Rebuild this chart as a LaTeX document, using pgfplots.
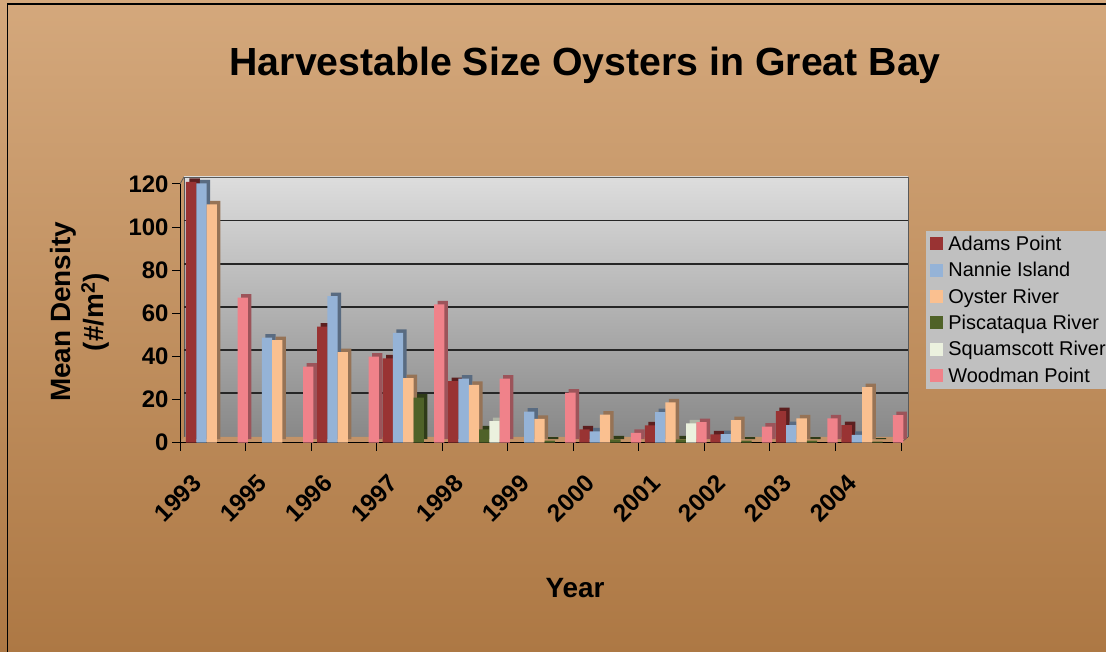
\documentclass[border=0pt]{standalone}
\usepackage{fontspec}
\setmainfont{Liberation Sans}
\usepackage{pgfplots}
\pgfplotsset{compat=1.18}
\usepackage{pgfplotstable}
\definecolor{bgtop}{HTML}{D4A87C}
\definecolor{bgbot}{HTML}{AD7844}
\definecolor{walltop}{HTML}{DDDDDD}
\definecolor{wallbot}{HTML}{888888}
\definecolor{floorc}{HTML}{C39368}
\definecolor{adams}{HTML}{993333}
\definecolor{nannie}{HTML}{95B3D7}
\definecolor{oyster}{HTML}{FAC090}
\definecolor{pisc}{HTML}{4F6228}
\definecolor{squam}{HTML}{EBF1DE}
\definecolor{wood}{HTML}{F0828A}
\definecolor{leggray}{HTML}{C0C0C0}

% i = category index: 0=1993, 1=1995, 2=1996, ..., 10=2004
\pgfplotstableread{
i v
0 121.0
2 53.8
3 39.1
4 28.6
6 6.2
7 8.0
8 3.9
9 14.6
10 8.2
}\adams
\pgfplotstableread{
i v
0 120.3
1 48.7
2 68.0
3 51.0
4 29.7
5 14.4
6 5.3
7 14.2
8 4.0
9 8.2
10 3.6
}\nannie
\pgfplotstableread{
i v
0 110.6
1 47.6
2 42.0
3 29.9
4 26.8
5 11.1
6 13.0
7 18.7
8 10.5
9 11.3
10 25.8
}\oyster
\pgfplotstableread{
i v
3 20.9
4 6.2
5 1.0
6 1.5
7 1.5
8 1.0
9 1.0
10 0.5
}\pisc
\pgfplotstableread{
i v
4 10.0
7 9.0
}\squam
\pgfplotstableread{
i v
0 67.3
1 35.3
2 39.9
3 64.2
4 29.7
5 23.2
6 4.6
7 9.5
8 7.4
9 11.3
10 12.8
}\wood

\begin{document}
\begin{tikzpicture}
\useasboundingbox (0bp,0bp) rectangle (1106bp,652bp);
\begin{scope}[x=1bp,y=1bp]
\shade[top color=bgtop, bottom color=bgbot] (0,0) rectangle (1106,652);
\draw[black, line width=1.5bp] (7.5,0) -- (7.5,648) -- (1106,648);
% back wall and floor
\shade[top color=walltop, bottom color=wallbot] (184,215) rectangle (908,475);
\draw[gray!70!black, line width=0.8bp] (184,215) -- (184,475) -- (908,475) -- (908,215);
\draw[gray!70!black, line width=0.8bp] (180,468) -- (184,475);
\fill[floorc] (180,209.3) -- (901,209.3) -- (908,215) -- (184,215) -- cycle;
\draw[gray!60!black, line width=0.6bp] (901,209.3) -- (908,215);
\foreach \v in {20,40,60,80,100}
  \draw[black!85, line width=1.4bp] (184,{215.7+\v*2.1558}) -- (908,{215.7+\v*2.1558});
\end{scope}
\begin{axis}[
  at={(180bp,209.3bp)}, anchor=south west, scale only axis,
  width=721bp, height=258.7bp,
  xmin=0, xmax=11, ymin=0, ymax=120, clip=false,
  axis x line*=bottom, axis y line*=left,
  axis line style={black, line width=1bp, -},
  xtick={0,...,11},
  xticklabels={1993,1995,1996,1997,1998,1999,2000,2001,2002,2003,2004,{}},
  ytick={0,20,...,120},
  tick style={black, line width=1bp},
  major tick length=8bp, tick align=outside,
  /pgf/number format/assume math mode=true,
  yticklabel style={font=\bfseries\fontsize{24}{24}\selectfont},
  xticklabel style={font=\bfseries\fontsize{24.5}{24.5}\selectfont, xshift=19.5bp, yshift=-26bp, rotate=45, anchor=east},
  title={Harvestable Size Oysters in Great Bay},
  title style={font=\bfseries\fontsize{39.4}{41}\selectfont, at={(axis description cs:0.562,1.437)}, anchor=center},
  xlabel={Year},
  xlabel style={font=\bfseries\fontsize{28}{30}\selectfont, at={(axis description cs:0.548,-0.562)}, anchor=center},
  ylabel={Mean Density\\(\#/m\textsuperscript{2})},
  ylabel style={font=\bfseries\fontsize{28}{34}\selectfont, align=center, at={(axis description cs:-0.139,0.505)}, anchor=center},
  legend style={at={(axis description cs:1.035,0.82)}, anchor=north west,
    fill=leggray, draw=none, font=\fontsize{20}{20}\selectfont,
    inner xsep=4bp, inner ysep=3bp, row sep=6.5bp, cells={anchor=west}},
  legend image code/.code={\fill[#1] (0bp,-6.5bp) rectangle (13bp,6.5bp);},
  legend image post style={},
  bar width=10.3bp,
]
% depth (side and top faces)
\addplot[ybar, forget plot, draw=none, fill=adams!60!black, xshift=3.5bp, yshift=3.5bp] table[x expr=\thisrow{i}+0.170, y=v] {\adams};
\addplot[ybar, forget plot, draw=none, fill=nannie!60!black, xshift=3.5bp, yshift=3.5bp] table[x expr=\thisrow{i}+0.327, y=v] {\nannie};
\addplot[ybar, forget plot, draw=none, fill=oyster!60!black, xshift=3.5bp, yshift=3.5bp] table[x expr=\thisrow{i}+0.484, y=v] {\oyster};
\addplot[ybar, forget plot, draw=none, fill=pisc!60!black, xshift=3.5bp, yshift=3.5bp] table[x expr=\thisrow{i}+0.642, y=v] {\pisc};
\addplot[ybar, forget plot, draw=none, fill=squam!75!black, xshift=3.5bp, yshift=3.5bp] table[x expr=\thisrow{i}+0.799, y=v] {\squam};
\addplot[ybar, forget plot, draw=none, fill=wood!65!black, xshift=3.5bp, yshift=3.5bp] table[x expr=\thisrow{i}+0.956, y=v] {\wood};
% front faces
\addplot[ybar, draw=none, fill=adams] table[x expr=\thisrow{i}+0.170, y=v] {\adams};
\addplot[ybar, draw=none, fill=nannie] table[x expr=\thisrow{i}+0.327, y=v] {\nannie};
\addplot[ybar, draw=none, fill=oyster] table[x expr=\thisrow{i}+0.484, y=v] {\oyster};
\addplot[ybar, draw=none, fill=pisc] table[x expr=\thisrow{i}+0.642, y=v] {\pisc};
\addplot[ybar, draw=none, fill=squam] table[x expr=\thisrow{i}+0.799, y=v] {\squam};
\addplot[ybar, draw=none, fill=wood] table[x expr=\thisrow{i}+0.956, y=v] {\wood};
\legend{\hspace{3bp}Adams Point, \hspace{3bp}Nannie Island, \hspace{3bp}Oyster River, \hspace{3bp}Piscataqua River, \hspace{3bp}Squamscott River, \hspace{3bp}Woodman Point}
\end{axis}
\end{tikzpicture}
\end{document}
